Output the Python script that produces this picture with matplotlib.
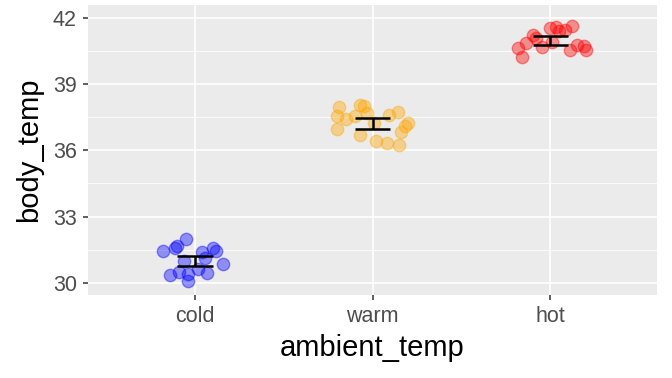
import numpy as np
import matplotlib
matplotlib.use('Agg')
import matplotlib.pyplot as plt
from matplotlib.ticker import MultipleLocator

plt.rcParams['font.family'] = ['Liberation Sans', 'DejaVu Sans']

categories = ['cold', 'warm', 'hot']
colors = ['blue', 'orange', 'red']

# body temperature readings per group, with the horizontal jitter seen in the picture
cold_temp = [31.99, 31.68, 31.57, 31.46, 31.57, 31.46, 31.39, 30.86,
             30.36, 30.48, 30.06, 30.41, 30.45, 30.63, 31.00, 31.10]
cold_jit = [-0.05, -0.10, -0.11, -0.18, 0.10, 0.12, 0.04, 0.16,
            -0.14, -0.09, -0.04, -0.04, 0.07, 0.02, -0.06, 0.06]
warm_temp = [37.97, 38.08, 38.00, 37.55, 37.43, 37.55, 37.70, 37.62,
             37.73, 36.95, 36.72, 37.25, 37.25, 37.10, 36.83, 36.42, 36.35, 36.23]
warm_jit = [-0.19, -0.07, -0.05, -0.20, -0.15, -0.10, -0.03, 0.09,
            0.14, -0.20, -0.07, 0.01, 0.20, 0.18, 0.16, 0.02, 0.08, 0.15]
hot_temp = [40.63, 40.25, 40.86, 41.23, 41.10, 40.71, 41.54, 41.61,
            40.93, 41.46, 41.64, 41.40, 40.56, 40.78, 40.74, 40.56]
hot_jit = [-0.18, -0.16, -0.14, -0.10, -0.08, -0.05, 0.00, 0.03,
           0.01, 0.08, 0.12, 0.05, 0.11, 0.15, 0.19, 0.20]

# summary (mean and error half-width) as drawn
group_mean = [30.99, 37.23, 40.99]
group_err = [0.24, 0.25, 0.21]

temps = [cold_temp, warm_temp, hot_temp]
jits = [cold_jit, warm_jit, hot_jit]

fig = plt.figure(figsize=(6.72, 3.78), dpi=100)
ax = fig.add_axes([0.131, 0.22, 0.847, 0.767])
ax.set_facecolor('#EBEBEB')
for s in ax.spines.values():
    s.set_visible(False)

for i, (t, j, c) in enumerate(zip(temps, jits, colors)):
    x = i + 1 + np.array(j)
    ax.scatter(x, t, s=80, color=c, alpha=0.4, edgecolors=c, linewidths=1, zorder=3)
    m, e = group_mean[i], group_err[i]
    ax.vlines(i + 1, m - e, m + e, color='black', lw=1.8, zorder=4)
    ax.hlines([m - e, m + e], i + 1 - 0.1, i + 1 + 0.1, color='black', lw=1.8, zorder=4)

ax.set_xlim(0.4, 3.6)
ax.set_ylim(29.45, 42.6)
ax.set_xticks([1, 2, 3])
ax.set_xticklabels(categories)
ax.yaxis.set_major_locator(MultipleLocator(3))
ax.yaxis.set_minor_locator(MultipleLocator(1.5))
ax.grid(which='major', color='white', lw=1.2)
ax.grid(which='minor', axis='y', color='white', lw=0.6)
ax.set_axisbelow(True)
ax.tick_params(which='major', length=3.5, width=1.1, color='#333333', labelsize=15.5,
               labelcolor='#4D4D4D', pad=4.5)
ax.tick_params(which='minor', length=0)
ax.set_xlabel('ambient_temp', fontsize=21, labelpad=5)
ax.set_ylabel('body_temp', fontsize=21, labelpad=7)

fig.savefig('out.png', dpi=100)
